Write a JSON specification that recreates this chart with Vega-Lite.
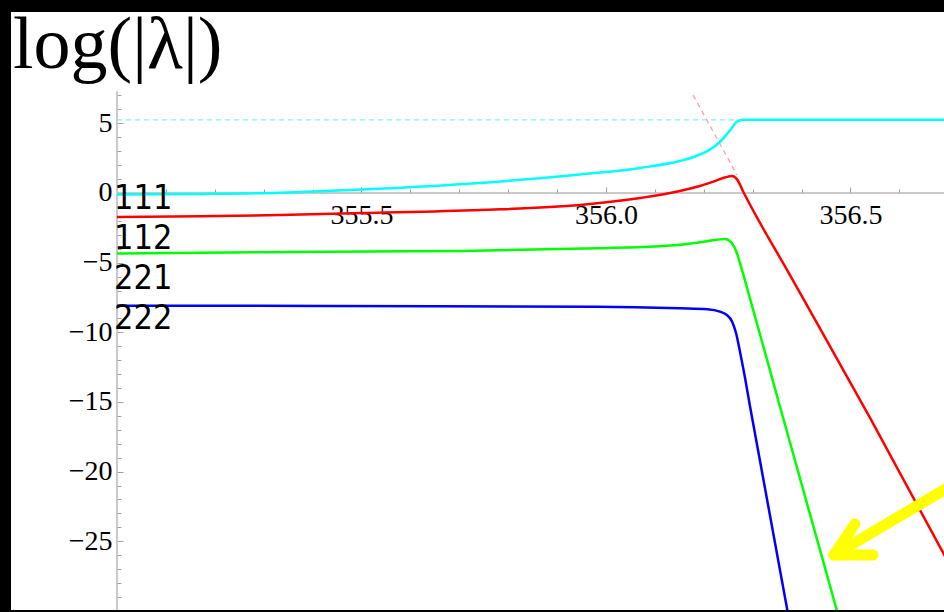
{
  "$schema": "https://vega.github.io/schema/vega-lite/v6.json",
  "width": 933,
  "height": 598,
  "autosize": {"type": "none"},
  "padding": {"left": 11, "top": 12, "right": 0, "bottom": 2},
  "background": "black",
  "config": {
    "view": {"fill": "white", "stroke": null},
    "axis": {"grid": false, "domain": false}
  },
  "title": {
    "text": "log(|λ|)",
    "anchor": "start",
    "frame": "group",
    "orient": "top",
    "font": "Liberation Serif",
    "fontSize": 74,
    "fontWeight": "normal",
    "color": "black",
    "baseline": "top",
    "offset": -70,
    "dx": 2,
    "dy": 2
  },
  "datasets": {
    "curves": [
      {"s": "111", "x": 355.000, "y": -0.11},
      {"s": "111", "x": 355.170, "y": -0.07},
      {"s": "111", "x": 355.333, "y": 0.02},
      {"s": "111", "x": 355.501, "y": 0.25},
      {"s": "111", "x": 355.742, "y": 0.72},
      {"s": "111", "x": 355.947, "y": 1.33},
      {"s": "111", "x": 356.070, "y": 1.80},
      {"s": "111", "x": 356.151, "y": 2.30},
      {"s": "111", "x": 356.182, "y": 2.62},
      {"s": "111", "x": 356.207, "y": 3.00},
      {"s": "111", "x": 356.233, "y": 3.66},
      {"s": "111", "x": 356.254, "y": 4.52},
      {"s": "111", "x": 356.268, "y": 5.12},
      {"s": "111", "x": 356.280, "y": 5.25},
      {"s": "111", "x": 356.315, "y": 5.25},
      {"s": "111", "x": 356.700, "y": 5.25},

      {"s": "112", "x": 355.000, "y": -1.72},
      {"s": "112", "x": 355.170, "y": -1.67},
      {"s": "112", "x": 355.333, "y": -1.58},
      {"s": "112", "x": 355.501, "y": -1.44},
      {"s": "112", "x": 355.742, "y": -1.22},
      {"s": "112", "x": 355.947, "y": -0.86},
      {"s": "112", "x": 356.070, "y": -0.36},
      {"s": "112", "x": 356.151, "y": 0.14},
      {"s": "112", "x": 356.192, "y": 0.50},
      {"s": "112", "x": 356.223, "y": 0.86},
      {"s": "112", "x": 356.243, "y": 1.11},
      {"s": "112", "x": 356.258, "y": 1.22},
      {"s": "112", "x": 356.268, "y": 0.98},
      {"s": "112", "x": 356.282, "y": 0.00},
      {"s": "112", "x": 356.382, "y": -6.25},
      {"s": "112", "x": 356.540, "y": -16.15},
      {"s": "112", "x": 356.724, "y": -28.07},

      {"s": "221", "x": 355.000, "y": -4.34},
      {"s": "221", "x": 355.436, "y": -4.21},
      {"s": "221", "x": 355.708, "y": -4.16},
      {"s": "221", "x": 355.982, "y": -3.97},
      {"s": "221", "x": 356.117, "y": -3.81},
      {"s": "221", "x": 356.186, "y": -3.57},
      {"s": "221", "x": 356.223, "y": -3.37},
      {"s": "221", "x": 356.243, "y": -3.30},
      {"s": "221", "x": 356.258, "y": -3.63},
      {"s": "221", "x": 356.266, "y": -4.16},
      {"s": "221", "x": 356.274, "y": -5.03},
      {"s": "221", "x": 356.284, "y": -6.25},
      {"s": "221", "x": 356.352, "y": -14.86},
      {"s": "221", "x": 356.489, "y": -32.09},

      {"s": "222", "x": 355.000, "y": -8.09},
      {"s": "222", "x": 355.436, "y": -8.11},
      {"s": "222", "x": 355.982, "y": -8.16},
      {"s": "222", "x": 356.151, "y": -8.28},
      {"s": "222", "x": 356.207, "y": -8.35},
      {"s": "222", "x": 356.233, "y": -8.52},
      {"s": "222", "x": 356.247, "y": -8.76},
      {"s": "222", "x": 356.258, "y": -9.24},
      {"s": "222", "x": 356.266, "y": -10.07},
      {"s": "222", "x": 356.274, "y": -11.39},
      {"s": "222", "x": 356.284, "y": -13.21},
      {"s": "222", "x": 356.294, "y": -15.22},
      {"s": "222", "x": 356.382, "y": -32.09}
    ],
    "axislines": [
      {"x": 355.0, "x2": 356.70, "y": 0, "y2": 0},
      {"x": 355.0, "x2": 355.0, "y": -30.5, "y2": 7.3}
    ],
    "guides": [
      {"s": "111", "x": 355.0, "x2": 356.268, "y": 5.25, "y2": 5.25},
      {"s": "112", "x": 356.178, "x2": 356.268, "y": 7.035, "y2": 1.29}
    ],
    "arrow": [
      {"seg": "shaft", "i": 0, "x": 356.724, "y": -20.64},
      {"seg": "shaft", "i": 1, "x": 356.466, "y": -25.99},
      {"seg": "shaft", "i": 2, "x": 356.509, "y": -23.76},
      {"seg": "barb", "i": 0, "x": 356.466, "y": -25.99},
      {"seg": "barb", "i": 1, "x": 356.546, "y": -25.99}
    ]
  },
  "layer": [
    {
      "data": {"name": "axislines"},
      "mark": {"type": "rule", "color": "#b8b8b8", "strokeWidth": 1.5, "clip": true},
      "encoding": {
        "x": {
          "field": "x", "type": "quantitative",
          "scale": {"domain": [354.78323, 356.69121], "nice": false, "zero": false},
          "axis": {
            "orient": "bottom", "offset": -417, "title": null, "labels": false,
            "values": [355.1, 355.2, 355.3, 355.4, 355.6, 355.7, 355.8, 355.9, 356.1, 356.2, 356.3, 356.4, 356.6],
            "tickSize": -4, "tickColor": "#a0a0a0", "tickWidth": 1
          }
        },
        "x2": {"field": "x2"},
        "y": {
          "field": "y", "type": "quantitative",
          "scale": {"domain": [-29.935, 12.993], "nice": false, "zero": false},
          "axis": {
            "orient": "left", "offset": -106, "title": null, "labels": false,
            "values": [-29, -28, -27, -26, -24, -23, -22, -21, -19, -18, -17, -16, -14, -13, -12, -11, -9, -8, -7, -6, -4, -3, -2, -1, 1, 2, 3, 4, 6, 7],
            "tickSize": -4, "tickColor": "#a0a0a0", "tickWidth": 1
          }
        },
        "y2": {"field": "y2"}
      }
    },
    {
      "data": {"name": "guides"},
      "transform": [{"filter": "datum.s === '111'"}],
      "mark": {"type": "rule", "color": "#7ff2f2", "strokeWidth": 1.2, "strokeDash": [5, 4], "clip": true},
      "encoding": {
        "x": {"field": "x", "type": "quantitative", "axis": null},
        "x2": {"field": "x2"},
        "y": {"field": "y", "type": "quantitative", "axis": null},
        "y2": {"field": "y2"}
      }
    },
    {
      "data": {"name": "guides"},
      "transform": [{"filter": "datum.s === '112'"}],
      "mark": {"type": "rule", "color": "#ff9a9a", "strokeWidth": 1.2, "strokeDash": [5, 4], "clip": true},
      "encoding": {
        "x": {"field": "x", "type": "quantitative", "axis": null},
        "x2": {"field": "x2"},
        "y": {"field": "y", "type": "quantitative", "axis": null},
        "y2": {"field": "y2"}
      }
    },
    {
      "data": {"name": "curves"},
      "mark": {"type": "line", "strokeWidth": 2.5, "interpolate": "monotone", "clip": true},
      "encoding": {
        "x": {
          "field": "x", "type": "quantitative",
          "axis": {
            "orient": "bottom", "offset": -417, "title": null,
            "values": [355.5, 356.0, 356.5], "format": ".1f",
            "tickSize": -6, "tickColor": "#a0a0a0", "tickWidth": 1,
            "labelPadding": 14, "labelBaseline": "top",
            "labelFont": "Liberation Serif", "labelFontSize": 28, "labelColor": "black",
            "labelFlush": false, "labelOverlap": false
          }
        },
        "y": {
          "field": "y", "type": "quantitative",
          "axis": {
            "orient": "left", "offset": -106, "title": null,
            "values": [-30, -25, -20, -15, -10, -5, 0, 5],
            "tickSize": -6, "tickColor": "#a0a0a0", "tickWidth": 1,
            "labelPadding": 11, "labelBaseline": "middle", "labelAlign": "right",
            "labelFont": "Liberation Serif", "labelFontSize": 28, "labelColor": "black",
            "labelFlush": false, "labelOverlap": false
          }
        },
        "color": {
          "field": "s", "type": "nominal",
          "scale": {"domain": ["111", "112", "221", "222"], "range": ["#00ffff", "#ff0000", "#00ff00", "#0000ff"]},
          "legend": {
            "orient": "none", "legendX": 69, "legendY": 170, "title": null,
            "padding": 0, "symbolSize": 0, "symbolStrokeWidth": 0, "symbolOpacity": 0,
            "labelOffset": 0, "labelFont": "DejaVu Sans Condensed", "labelFontSize": 34,
            "labelColor": "black", "rowPadding": 6, "labelLimit": 0
          }
        }
      }
    },
    {
      "data": {"name": "arrow"},
      "mark": {"type": "line", "color": "#ffff00", "strokeWidth": 11, "strokeCap": "round", "strokeJoin": "round", "clip": true},
      "encoding": {
        "x": {"field": "x", "type": "quantitative", "axis": null},
        "y": {"field": "y", "type": "quantitative", "axis": null},
        "detail": {"field": "seg"},
        "order": {"field": "i", "type": "quantitative"}
      }
    }
  ],
  "resolve": {"axis": {"x": "independent", "y": "independent"}}
}
